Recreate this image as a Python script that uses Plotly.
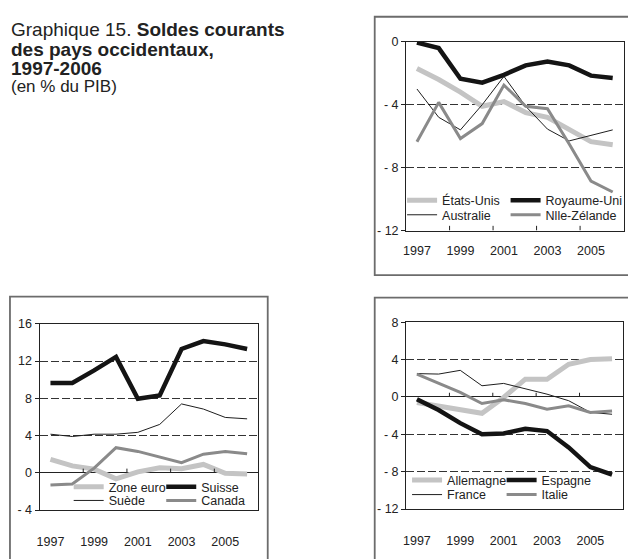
import plotly.graph_objects as go

W, H = 628, 559
FONT = "Liberation Sans"

years = [1997, 1998, 1999, 2000, 2001, 2002, 2003, 2004, 2005, 2006]
year_ticks = [1997, 1999, 2001, 2003, 2005]
minor_ticks = [1998.5, 2000.5, 2002.5, 2004.5]

# Panel 1 (top right)
etats_unis = [-1.7, -2.4, -3.2, -4.1, -3.8, -4.5, -4.8, -5.6, -6.35, -6.55]
royaume_uni = [-0.05, -0.4, -2.35, -2.6, -2.1, -1.5, -1.25, -1.5, -2.15, -2.3]
australie = [-3.0, -4.8, -5.6, -4.0, -2.2, -4.1, -5.55, -6.3, -5.95, -5.6]
nlle_zelande = [-6.35, -3.85, -6.15, -5.2, -2.75, -4.1, -4.25, -6.5, -8.85, -9.55]
p1_yticks = [0, -4, -8, -12]
p1_ylabels = ["0", "- 4", "- 8", "- 12"]

# Panel 2 (bottom left)
zone_euro = [1.45, 0.75, 0.4, -0.65, 0.1, 0.55, 0.45, 0.9, -0.05, -0.12]
suisse = [9.65, 9.65, 11.0, 12.45, 7.95, 8.3, 13.3, 14.15, 13.8, 13.3]
suede = [4.15, 3.9, 4.15, 4.15, 4.35, 5.2, 7.4, 6.85, 5.95, 5.8]
canada = [-1.3, -1.2, 0.5, 2.7, 2.3, 1.7, 1.1, 2.0, 2.3, 2.05]
p2_yticks = [16, 12, 8, 4, 0, -4]
p2_ylabels = ["16", "12", "8", "4", "0", "- 4"]

# Panel 3 (bottom right)
allemagne = [-0.6, -0.95, -1.3, -1.75, -0.05, 1.9, 1.9, 3.5, 4.0, 4.1]
espagne = [-0.25, -1.4, -2.8, -4.0, -3.9, -3.4, -3.65, -5.4, -7.5, -8.3]
france = [2.5, 2.45, 2.85, 1.2, 1.45, 0.85, 0.3, -0.4, -1.65, -1.85]
italie = [2.45, 1.5, 0.5, -0.7, -0.3, -0.7, -1.3, -0.95, -1.65, -1.5]
p3_yticks = [8, 4, 0, -4, -8, -12]
p3_ylabels = ["8", "4", "0", "- 4", "- 8", "- 12"]

LIGHT = dict(color="#c4c4c4", width=5)
BLACK = dict(color="#141414", width=4.5)
THIN = dict(color="#1e1e1e", width=1)
MID = dict(color="#8a8a8a", width=3)


def px(x):
    return x / W


def py(y):
    return 1 - y / H


fig = go.Figure()

# legend placement: (left x of legend item, row centre y) in pixels
panels = [
    ("x", "y", [("États-Unis", etats_unis, LIGHT, (401, 198.5)),
                ("Royaume-Uni", royaume_uni, BLACK, (505, 198.5)),
                ("Australie", australie, THIN, (401, 213.5)),
                ("Nlle-Zélande", nlle_zelande, MID, (505, 213.5))]),
    ("x2", "y2", [("Zone euro", zone_euro, LIGHT, (66, 492.5)),
                  ("Suisse", suisse, BLACK, (159, 492.5)),
                  ("Suède", suede, THIN, (66, 506.5)),
                  ("Canada", canada, MID, (159, 506.5))]),
    ("x3", "y3", [("Allemagne", allemagne, LIGHT, (406, 485.5)),
                  ("Espagne", espagne, BLACK, (501, 485.5)),
                  ("France", france, THIN, (406, 500.5)),
                  ("Italie", italie, MID, (501, 500.5))]),
]

leg_font = dict(family=FONT, size=12.5, color="#222")
legends = {}
k = 0
for xa, ya, series in panels:
    for name, vals, style, (lx, ly) in series:
        k += 1
        key = "legend" if k == 1 else "legend%d" % k
        fig.add_trace(go.Scatter(x=years, y=vals, name=name, mode="lines",
                                 line=dict(style, shape="linear"),
                                 xaxis=xa, yaxis=ya, legend=key))
        legends[key] = dict(orientation="v", x=px(lx), y=py(ly), xanchor="left",
                            yanchor="middle", bgcolor="rgba(0,0,0,0)", borderwidth=0,
                            font=leg_font, itemclick=False, itemdoubleclick=False)

axis_font = dict(family=FONT, size=12.5, color="#222")


def xaxis(domain, anchor, standoff):
    return dict(domain=domain, anchor=anchor, range=[1996.5, 2006.52],
                tickvals=year_ticks, ticks="", showline=True, linecolor="#222",
                linewidth=1, mirror=True, showgrid=False, zeroline=False,
                tickfont=axis_font, ticklabelstandoff=standoff, fixedrange=True)


def yaxis(domain, anchor, rng, vals, labels):
    return dict(domain=domain, anchor=anchor, range=rng, tickvals=vals,
                ticktext=labels, ticks="outside", ticklen=4, tickcolor="#222",
                tickwidth=1, showline=True, linecolor="#222", linewidth=1,
                mirror=True, showgrid=True, gridcolor="#333", gridwidth=1,
                griddash="8px,3px", zeroline=True, zerolinecolor="#222",
                zerolinewidth=1, tickfont=axis_font, fixedrange=True)


layout = dict(
    width=W, height=H, margin=dict(l=0, r=0, t=0, b=0),
    paper_bgcolor="white", plot_bgcolor="rgba(0,0,0,0)",
    font=dict(family=FONT, color="#222"),
    xaxis=xaxis([px(405), px(624)], "y", 8),
    yaxis=yaxis([py(229.3), py(35.7)], "x", [-12, 0], p1_yticks, p1_ylabels),
    xaxis2=xaxis([px(36.7), px(256.7)], "y2", 20),
    yaxis2=yaxis([py(516), py(325)], "x2", [-4, 16], p2_yticks, p2_ylabels),
    xaxis3=xaxis([px(405), px(623.3)], "y3", 20),
    yaxis3=yaxis([py(515), py(323.3)], "x3", [-12, 8], p3_yticks, p3_ylabels),
    showlegend=True,
)
layout.update(legends)
fig.update_layout(**layout)

# Outer boxes of each panel
box_line = dict(color="#6c6c6c", width=1.8)
for x0, y0, x1, y1 in [(373.5, 10, 640, 275), (7, 297, 266, 580), (373.5, 298, 640, 580)]:
    fig.add_shape(type="rect", xref="paper", yref="paper", x0=px(x0), x1=px(x1),
                  y0=py(y1), y1=py(y0), line=box_line, fillcolor="rgba(0,0,0,0)",
                  layer="below")

# Small category separator ticks on the category axis
for xa, ya, base, ln in [("x", "y", -12, 0.3), ("x2", "y2", 0, 0.45), ("x3", "y3", 0, 0.45)]:
    for t in minor_ticks:
        fig.add_shape(type="line", xref=xa, yref=ya, x0=t, x1=t, y0=base, y1=base + ln,
                      line=dict(color="#222", width=1), layer="above")

# Title
title_lines = [
    ("Graphique 15. <b>Soldes courants</b>", 23.5, 19),
    ("<b>des pays occidentaux,</b>", 43.3, 19),
    ("<b>1997-2006</b>", 62.7, 19),
    ("(en % du PIB)", 82, 17),
]
for txt, yc, size in title_lines:
    fig.add_annotation(text=txt, xref="paper", yref="paper", x=px(6), y=py(yc),
                       xanchor="left", yanchor="middle", showarrow=False,
                       font=dict(family=FONT, size=size, color="#222"))

fig.write_html("out.html", config={"displayModeBar": False},
               post_script="document.body.style.margin='0';document.body.style.overflow='hidden';")
